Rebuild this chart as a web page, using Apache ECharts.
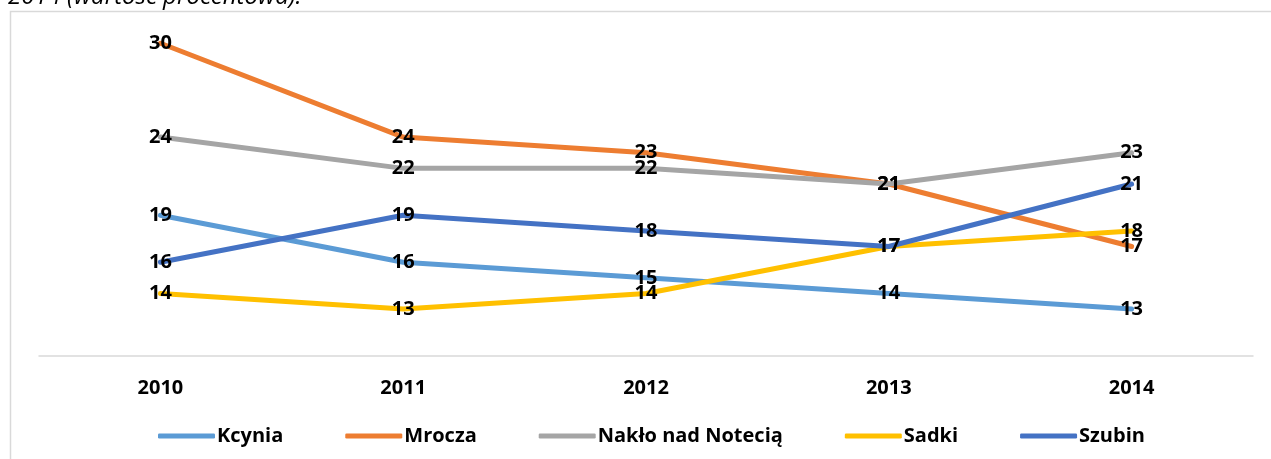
<!DOCTYPE html>
<html>
<head>
<meta charset="utf-8">
<script src="https://cdn.jsdelivr.net/npm/echarts@6/dist/echarts.min.js"></script>
<style>
  html, body { margin: 0; padding: 0; background: #fff; }
  #chart { width: 1271px; height: 459px; }
</style>
</head>
<body>
<div id="chart"></div>
<script>
// lata na osi X
const years = ['2010', '2011', '2012', '2013', '2014']

// wartości procentowe dla gmin
const kcynia = [19, 16, 15, 14, 13]
const mrocza = [30, 24, 23, 21, 17]
const naklo = [24, 22, 22, 21, 23]
const sadki = [14, 13, 14, 17, 18]
const szubin = [16, 19, 18, 17, 21]

const seriesDefs = [
  { name: 'Kcynia', data: kcynia, color: '#5B9BD5' },
  { name: 'Mrocza', data: mrocza, color: '#ED7D31' },
  { name: 'Nakło nad Notecią', data: naklo, color: '#A5A5A5' },
  { name: 'Sadki', data: sadki, color: '#FFC000' },
  { name: 'Szubin', data: szubin, color: '#4472C4' }
]

const FONT = '"Open Sans", Lato, sans-serif'

const chart = echarts.init(document.getElementById('chart'))

chart.setOption({
  animation: false,
  color: seriesDefs.map(s => s.color),
  graphic: [
    {
      type: 'rect',
      shape: { x: 10.5, y: 11.5, width: 1300, height: 500 },
      style: { fill: 'none', stroke: '#d9d9d9', lineWidth: 1.5 },
      silent: true
    },
    {
      type: 'text',
      left: 8,
      top: -15,
      style: {
        text: '2014 (wartość procentowa).',
        font: 'italic 24px ' + FONT,
        fill: '#000'
      },
      silent: true
    }
  ],
  grid: {
    left: 39,
    right: 18,
    top: 12,
    bottom: 103,
    containLabel: false
  },
  legend: {
    left: 153,
    top: 421,
    icon: 'roundRect',
    itemWidth: 57,
    itemHeight: 5,
    itemGap: 62,
    textStyle: {
      fontFamily: FONT,
      fontWeight: 'bold',
      fontSize: 20,
      color: '#000',
      padding: [0, 0, 0, -3]
    },
    data: seriesDefs.map(s => s.name)
  },
  xAxis: {
    type: 'category',
    data: years,
    boundaryGap: true,
    axisLine: { lineStyle: { color: '#d9d9d9', width: 1.5 } },
    axisTick: { show: false },
    axisLabel: {
      margin: 22,
      fontFamily: FONT,
      fontWeight: 'bold',
      fontSize: 20,
      color: '#000'
    }
  },
  yAxis: {
    type: 'value',
    min: 10,
    max: 32,
    show: false,
    splitLine: { show: false }
  },
  series: seriesDefs.map((s, i) => ({
    name: s.name,
    type: 'line',
    data: s.data,
    smooth: false,
    showSymbol: true,
    symbol: 'circle',
    symbolSize: 1,
    z: 2 + i,
    lineStyle: { width: 5, color: s.color, cap: 'round' },
    itemStyle: { color: s.color },
    label: {
      show: true,
      position: 'inside',
      fontFamily: FONT,
      fontWeight: 'bold',
      fontSize: 20,
      color: '#000'
    },
    labelLayout: { hideOverlap: false }
  }))
})
</script>
</body>
</html>
